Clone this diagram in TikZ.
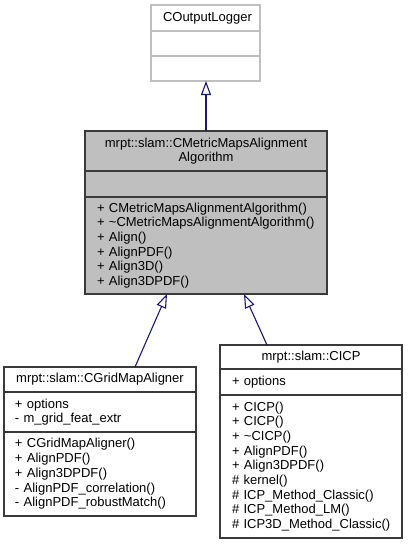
\documentclass[tikz,border=0pt]{standalone}
\usepackage{fontspec}
\setmainfont{Liberation Sans}
\usetikzlibrary{positioning}
\usetikzlibrary{arrows.meta}

\definecolor{edgeblue}{HTML}{191970}
\definecolor{shadegray}{HTML}{BFBFBF}
\definecolor{framegray}{HTML}{3A3A3A}

\tikzset{
  umlpart/.style={rectangle, draw=framegray, line width=1.1pt, inner xsep=12pt, inner ysep=0pt,
    outer sep=0pt, anchor=north, align=left, font=\fontsize{13}{14.7}\selectfont},
  umlname/.style={umlpart, align=center},
  inherit/.style={draw=edgeblue, line width=1.1pt, -{Triangle[open, length=14pt, width=10pt]}},
}

\begin{document}
\begin{tikzpicture}[x=1pt,y=-1pt]
  \useasboundingbox (0,0) rectangle (408,544);

  %Base class
  \node[umlname, draw=shadegray, text width=85pt, minimum height=26pt] (loggername) at (205.5,5) {COutputLogger};
  \node[umlpart, draw=shadegray, text width=85pt, minimum height=25pt, below=0pt of loggername] (loggerattr) {};
  \node[umlpart, draw=shadegray, text width=85pt, minimum height=25pt, below=0pt of loggerattr] (loggerops) {};

  %Main class
  \node[umlname, fill=shadegray, text width=218pt, minimum height=40pt] (mainname) at (206,131)
    {mrpt::slam::CMetricMapsAlignment\\Algorithm};
  \node[umlpart, fill=shadegray, text width=218pt, minimum height=26pt, below=0pt of mainname] (mainattr) {};
  \node[umlpart, fill=shadegray, text width=218pt, minimum height=97pt, below=0pt of mainattr] (mainops)
    {+ CMetricMapsAlignmentAlgorithm()\\
     + \textasciitilde CMetricMapsAlignmentAlgorithm()\\
     + Align()\\
     + AlignPDF()\\
     + Align3D()\\
     + Align3DPDF()};

  %Derived classes
  \node[umlname, inner xsep=11pt, text width=170pt, minimum height=25pt] (gridname) at (100,367) {mrpt::slam::CGridMapAligner};
  \node[umlpart, inner xsep=11pt, text width=170pt, minimum height=40pt, below=0pt of gridname] (gridattr)
    {+ options\\
     - m\_grid\_feat\_extr};
  \node[umlpart, inner xsep=11pt, text width=170pt, minimum height=84pt, below=0pt of gridattr] (gridops)
    {+ CGridMapAligner()\\
     + AlignPDF()\\
     + Align3DPDF()\\
     - AlignPDF\_correlation()\\
     - AlignPDF\_robustMatch()};

  \node[umlname, text width=158pt, minimum height=24pt] (icpname) at (311,345) {mrpt::slam::CICP};
  \node[umlpart, text width=158pt, minimum height=26pt, below=0pt of icpname] (icpattr)
    {+ options};
  \node[umlpart, text width=158pt, minimum height=143pt, below=0pt of icpattr] (icpops)
    {+ CICP()\\
     + CICP()\\
     + \textasciitilde CICP()\\
     + AlignPDF()\\
     + Align3DPDF()\\
     \#~kernel()\\
     \#~ICP\_Method\_Classic()\\
     \#~ICP\_Method\_LM()\\
     \#~ICP3D\_Method\_Classic()};

  % inheritance
  \draw[inherit] (mainname.north) -- (mainname.north |- loggerops.south);
  \draw[inherit] ([xshift=35pt]gridname.north) -- ([xshift=-39pt]mainops.south);
  \draw[inherit] ([xshift=-44pt]icpname.north) -- ([xshift=38pt]mainops.south);
\end{tikzpicture}
\end{document}
